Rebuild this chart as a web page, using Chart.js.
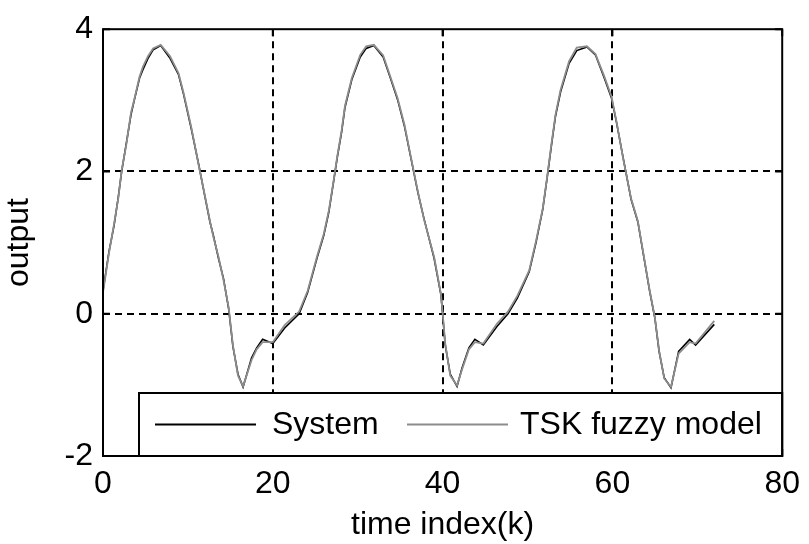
<!DOCTYPE html>
<html>
<head>
<meta charset="utf-8">
<script src="https://cdn.jsdelivr.net/npm/chart.js@4.4.1/dist/chart.umd.min.js"></script>
<style>
    html, body { margin: 0; padding: 0; background: #fff; }
    #wrap { width: 809px; height: 544px; }
</style>
</head>
<body>
<div id="wrap"><canvas id="outputChart" width="809" height="544"></canvas></div>
<script>
// time index k of each sample
const timeIndex = [
    0.0, 0.7, 1.3, 1.8, 2.2, 2.75, 3.3, 3.7, 4.3, 4.7, 5.3, 5.9, 6.8, 7.9, 8.9, 9.5,
    10.4, 11.3, 12.0, 12.6, 13.0, 13.6, 14.2, 14.8, 15.3, 15.9, 16.5, 17.5, 18.1, 18.8,
    20.0, 21.4, 23.1, 24.1, 25.2, 26.0, 26.6, 27.2, 27.6, 28.1, 28.5, 29.3, 30.3, 31.0,
    31.9, 33.0, 33.8, 34.7, 35.5, 36.3, 37.1, 37.8, 39.0, 39.8, 40.0, 40.3, 40.9, 41.7,
    42.3, 43.1, 43.8, 44.8, 46.4, 47.7, 48.8, 50.2, 51.0, 51.8, 52.3, 52.8, 53.3, 53.9,
    54.9, 55.8, 57.0, 58.0, 59.0, 59.9, 60.5, 61.3, 62.2, 63.0, 63.6, 64.4, 65.0, 65.5,
    66.1, 66.9, 67.8, 69.1, 69.8, 72.0
];

const systemOutput = [
    0.32, 0.87, 1.24, 1.64, 2.00, 2.40, 2.80, 3.01, 3.31, 3.43, 3.59, 3.71, 3.77, 3.59, 3.36, 3.08,
    2.60, 2.08, 1.65, 1.29, 1.10, 0.78, 0.49, 0.07, -0.46, -0.85, -1.03, -0.62, -0.48, -0.36,
    -0.42, -0.20, 0.00, 0.30, 0.78, 1.10, 1.43, 1.89, 2.20, 2.55, 2.90, 3.29, 3.61, 3.73,
    3.77, 3.61, 3.33, 3.01, 2.64, 2.17, 1.70, 1.34, 0.78, 0.27, 0.00, -0.43, -0.85, -1.02,
    -0.76, -0.48, -0.36, -0.44, -0.18, 0.00, 0.22, 0.59, 1.00, 1.47, 1.90, 2.35, 2.78, 3.12,
    3.52, 3.70, 3.75, 3.64, 3.33, 3.03, 2.68, 2.17, 1.61, 1.29, 0.87, 0.31, -0.06, -0.53,
    -0.90, -1.04, -0.53, -0.36, -0.44, -0.15
];

const modelOutput = [
    0.30, 0.85, 1.26, 1.62, 2.02, 2.38, 2.83, 3.02, 3.33, 3.47, 3.62, 3.73, 3.78, 3.62, 3.38, 3.10,
    2.62, 2.07, 1.66, 1.30, 1.08, 0.80, 0.47, 0.09, -0.44, -0.87, -1.02, -0.65, -0.50, -0.40,
    -0.40, -0.16, 0.03, 0.32, 0.80, 1.12, 1.45, 1.90, 2.22, 2.57, 2.92, 3.31, 3.64, 3.76,
    3.78, 3.63, 3.35, 3.03, 2.66, 2.18, 1.71, 1.33, 0.80, 0.28, 0.02, -0.41, -0.87, -1.01,
    -0.78, -0.50, -0.40, -0.42, -0.14, 0.03, 0.25, 0.61, 1.02, 1.48, 1.91, 2.37, 2.80, 3.15,
    3.55, 3.74, 3.76, 3.65, 3.35, 3.05, 2.69, 2.16, 1.62, 1.30, 0.88, 0.32, -0.05, -0.52,
    -0.91, -1.03, -0.56, -0.40, -0.42, -0.10
];

const xTicks = [0, 20, 40, 60, 80];
const yTicks = [-2, 0, 2, 4];
const legendLabels = ['System', 'TSK fuzzy model'];

const FONT = '"Liberation Sans", Arial, sans-serif';
const FONT_SIZE = 32;
const SYSTEM_COLOR = '#000000';
const MODEL_COLOR = '#8c8c8c';

function toPoints(xs, ys) {
    return xs.map((x, i) => ({ x: x, y: ys[i] }));
}

// frame, inside tick marks and the boxed legend, MATLAB style
const frameAndLegend = {
    id: 'frameAndLegend',
    afterDatasetsDraw(chart) {
        const ctx = chart.ctx;
        const area = chart.chartArea;
        const xs = chart.scales.x;
        const ys = chart.scales.y;
        ctx.save();
        ctx.strokeStyle = '#000';
        ctx.lineWidth = 2;
        ctx.setLineDash([]);

        // tick marks pointing in
        ctx.beginPath();
        xTicks.forEach(v => {
            const px = xs.getPixelForValue(v);
            ctx.moveTo(px, area.bottom); ctx.lineTo(px, area.bottom - 7);
            ctx.moveTo(px, area.top); ctx.lineTo(px, area.top + 7);
        });
        yTicks.forEach(v => {
            const py = ys.getPixelForValue(v);
            ctx.moveTo(area.left, py); ctx.lineTo(area.left + 7, py);
            ctx.moveTo(area.right, py); ctx.lineTo(area.right - 7, py);
        });
        ctx.stroke();

        // legend box
        const boxLeft = area.left + 36;
        const boxTop = area.bottom - 63;
        const boxRight = area.right;
        const boxBottom = area.bottom;
        ctx.fillStyle = '#fff';
        ctx.fillRect(boxLeft, boxTop, boxRight - boxLeft, boxBottom - boxTop);
        ctx.strokeRect(boxLeft, boxTop, boxRight - boxLeft, boxBottom - boxTop);

        const midY = (boxTop + boxBottom) / 2;
        ctx.lineWidth = 1.8;
        ctx.strokeStyle = SYSTEM_COLOR;
        ctx.beginPath(); ctx.moveTo(boxLeft + 16, midY); ctx.lineTo(boxLeft + 117, midY); ctx.stroke();
        ctx.strokeStyle = MODEL_COLOR;
        ctx.beginPath(); ctx.moveTo(boxLeft + 268, midY); ctx.lineTo(boxLeft + 369, midY); ctx.stroke();

        ctx.fillStyle = '#000';
        ctx.font = FONT_SIZE + 'px ' + FONT;
        ctx.textBaseline = 'middle';
        ctx.textAlign = 'left';
        ctx.fillText(legendLabels[0], boxLeft + 133, midY + 1);
        ctx.fillText(legendLabels[1], boxLeft + 381, midY + 1);

        // frame
        ctx.lineWidth = 2;
        ctx.strokeStyle = '#000';
        ctx.strokeRect(area.left, area.top, area.right - area.left, area.bottom - area.top);
        ctx.restore();
    }
};

const interiorGrid = (edges) => function(context) {
    return edges.includes(context.tick.value) ? 'rgba(0,0,0,0)' : '#000';
};

const chartCtx = document.getElementById('outputChart').getContext('2d');
const outputChart = new Chart(chartCtx, {
    type: 'line',
    data: {
        datasets: [{
            label: legendLabels[0],
            data: toPoints(timeIndex, systemOutput),
            borderColor: SYSTEM_COLOR,
            borderWidth: 1.6,
            pointRadius: 0,
            tension: 0,
            fill: false,
            order: 1
        }, {
            label: legendLabels[1],
            data: toPoints(timeIndex, modelOutput),
            borderColor: MODEL_COLOR,
            borderWidth: 1.8,
            pointRadius: 0,
            tension: 0,
            fill: false,
            order: 0
        }]
    },
    options: {
        responsive: false,
        animation: false,
        layout: { padding: { top: 23, right: 18, left: 0, bottom: 0 } },
        plugins: {
            legend: { display: false },
            tooltip: { enabled: false }
        },
        scales: {
            x: {
                type: 'linear',
                min: 0,
                max: 80,
                afterBuildTicks: axis => { axis.ticks = xTicks.map(v => ({ value: v })); },
                afterFit: axis => { axis.height = 88; },
                ticks: {
                    color: '#000',
                    padding: 9,
                    font: { family: FONT, size: FONT_SIZE }
                },
                grid: {
                    color: interiorGrid([0, 80]),
                    lineWidth: 2,
                    drawTicks: false
                },
                border: { display: false, dash: [7, 5] },
                title: {
                    display: true,
                    text: 'time index(k)',
                    color: '#000',
                    padding: { top: 0, bottom: 0 },
                    font: { family: FONT, size: FONT_SIZE }
                }
            },
            y: {
                type: 'linear',
                min: -2,
                max: 4,
                afterBuildTicks: axis => { axis.ticks = yTicks.map(v => ({ value: v })); },
                afterFit: axis => { axis.width = 103; },
                ticks: {
                    color: '#000',
                    padding: 10,
                    font: { family: FONT, size: FONT_SIZE }
                },
                grid: {
                    color: interiorGrid([-2, 4]),
                    lineWidth: 2,
                    drawTicks: false
                },
                border: { display: false, dash: [7, 5] },
                title: {
                    display: true,
                    text: 'output',
                    color: '#000',
                    padding: { top: 0, bottom: 6 },
                    font: { family: FONT, size: FONT_SIZE }
                }
            }
        }
    },
    plugins: [frameAndLegend]
});
</script>
</body>
</html>
